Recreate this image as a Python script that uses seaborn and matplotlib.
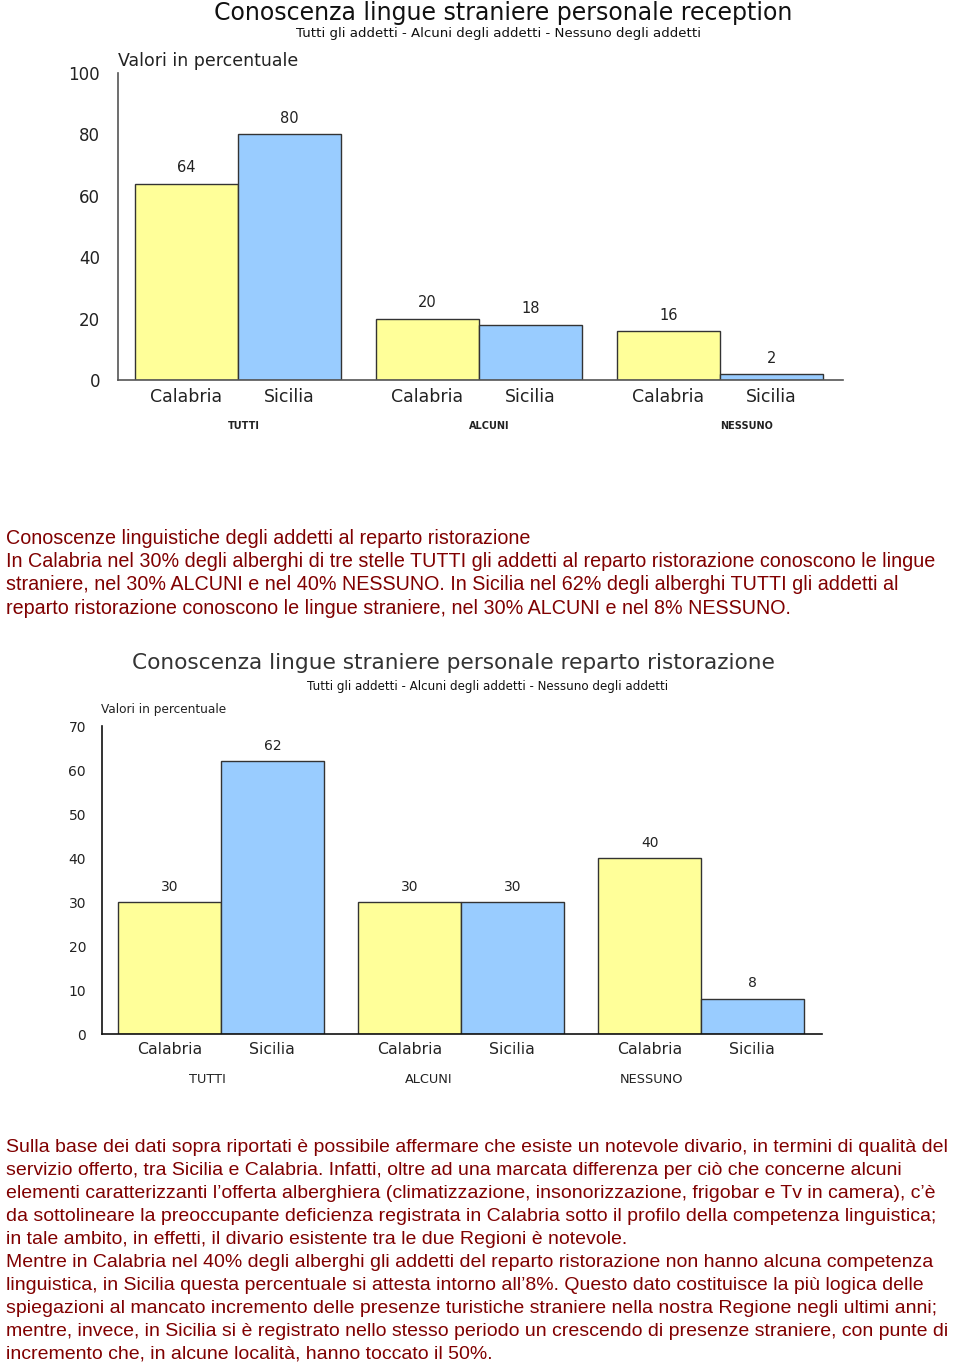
import matplotlib
matplotlib.use("Agg")
import matplotlib.pyplot as plt
import seaborn as sns
import pandas as pd

# ---------------- data ----------------
groups = ["TUTTI", "ALCUNI", "NESSUNO"]
regions = ["Calabria", "Sicilia"]
reception_calabria = [64, 20, 16]
reception_sicilia = [80, 18, 2]
ristorazione_calabria = [30, 30, 40]
ristorazione_sicilia = [62, 30, 8]
reception_yticks = [0, 20, 40, 60, 80, 100]
ristorazione_yticks = [0, 10, 20, 30, 40, 50, 60, 70]

title1 = "Conoscenza lingue straniere personale reception"
title2 = "Conoscenza lingue straniere personale reparto ristorazione"
subtitle = "Tutti gli addetti - Alcuni degli addetti - Nessuno degli addetti"
ylabel = "Valori in percentuale"

para1 = [
    "Conoscenze linguistiche degli addetti al reparto ristorazione",
    "In Calabria nel 30% degli alberghi di tre stelle TUTTI gli addetti al reparto ristorazione conoscono le lingue",
    "straniere, nel 30% ALCUNI e nel 40% NESSUNO. In Sicilia nel 62% degli alberghi TUTTI gli addetti al",
    "reparto ristorazione conoscono le lingue straniere, nel 30% ALCUNI e nel 8% NESSUNO.",
]
para2 = [
    "Sulla base dei dati sopra riportati è possibile affermare che esiste un notevole divario, in termini di qualità del",
    "servizio offerto, tra Sicilia e Calabria. Infatti, oltre ad una marcata differenza per ciò che concerne alcuni",
    "elementi caratterizzanti l’offerta alberghiera (climatizzazione, insonorizzazione, frigobar e Tv in camera), c’è",
    "da sottolineare la preoccupante deficienza registrata in Calabria sotto il profilo della competenza linguistica;",
    "in tale ambito, in effetti, il divario esistente tra le due Regioni è notevole.",
    "Mentre in Calabria nel 40% degli alberghi gli addetti del reparto ristorazione non hanno alcuna competenza",
    "linguistica, in Sicilia questa percentuale si attesta intorno all’8%. Questo dato costituisce la più logica delle",
    "spiegazioni al mancato incremento delle presenze turistiche straniere nella nostra Regione negli ultimi anni;",
    "mentre, invece, in Sicilia si è registrato nello stesso periodo un crescendo di presenze straniere, con punte di",
    "incremento che, in alcune località, hanno toccato il 50%.",
]

YELLOW = "#FFFF99"
BLUE = "#99CCFF"
TEXT_RED = "#800000"

sns.set_theme(style="white")
plt.rcParams["font.family"] = ["DejaVu Sans"]

W, H = 960, 1367
fig = plt.figure(figsize=(W / 100, H / 100), dpi=100)


def px_rect(left, top, right, bottom):
    return [left / W, 1 - bottom / H, (right - left) / W, (bottom - top) / H]


def fy(y):
    return 1 - y / H


def make_df(cal, sic):
    rows = []
    for g, c, s in zip(groups, cal, sic):
        rows.append({"gruppo": g, "regione": regions[0], "valore": c})
        rows.append({"gruppo": g, "regione": regions[1], "valore": s})
    return pd.DataFrame(rows)


def draw_chart(ax, df, ymax, yticks, xlim, tick_fs, val_fs, cat_fs, grp_fs,
               grp_weight, grp_offsets, ypad, spine_color):
    sns.barplot(data=df, x="gruppo", y="valore", hue="regione",
                order=groups, hue_order=regions,
                palette=[YELLOW, BLUE], saturation=1, width=0.855,
                edgecolor="#333333", linewidth=1.0, ax=ax, legend=False)
    ax.set_ylim(0, ymax)
    ax.set_xlim(*xlim)
    ax.set_yticks(yticks)
    ax.set_yticklabels([str(t) for t in yticks], fontsize=tick_fs, color="#222222")
    ax.tick_params(axis="y", length=0, pad=ypad)
    centers, labels = [], []
    for cont, reg in zip(ax.containers, regions):
        for p in cont.patches:
            centers.append(p.get_x() + p.get_width() / 2)
            labels.append(reg)
        ax.bar_label(cont, padding=6, fontsize=val_fs, color="#222222")
    ax.set_xticks(centers)
    ax.set_xticklabels(labels, fontsize=cat_fs, color="#222222")
    ax.tick_params(axis="x", length=0, pad=6)
    ax.set_xlabel("")
    ax.set_ylabel("")
    for s in ["top", "right"]:
        ax.spines[s].set_visible(False)
    for s in ["left", "bottom"]:
        ax.spines[s].set_color(spine_color)
        ax.spines[s].set_linewidth(1.2)
    for i, (g, off) in enumerate(zip(groups, grp_offsets)):
        ax.annotate(g, xy=(i, 0), xycoords=("data", "axes fraction"),
                    xytext=(off, -33), textcoords="offset points",
                    ha="center", va="center", fontsize=grp_fs,
                    fontweight=grp_weight, color="#222222")


# ---------------- chart 1 ----------------
ax1 = fig.add_axes(px_rect(118, 73, 843, 380))
draw_chart(ax1, make_df(reception_calabria, reception_sicilia), 100,
           reception_yticks, (-0.498, 2.51), 12, 10.5, 12.5, 7, "bold",
           [4, 7, 19], 13, "#555555")
fig.text(503 / W, fy(13), title1, ha="center", va="center", fontsize=17,
         color="#111111")
fig.text(499 / W, fy(34), subtitle, ha="center", va="center", fontsize=9.6,
         color="#111111")
fig.text(118 / W, fy(61), ylabel, ha="left", va="center", fontsize=12.5,
         color="#222222")

# ---------------- chart 2 ----------------
ax2 = fig.add_axes(px_rect(102, 726, 822, 1034))
draw_chart(ax2, make_df(ristorazione_calabria, ristorazione_sicilia), 70,
           ristorazione_yticks, (-0.496, 2.504), 10, 10, 11.3, 9.3, "normal",
           [-10, -23, -36], 11.5, "#111111")
fig.text(453 / W, fy(663), title2, ha="center", va="center", fontsize=15.6,
         color="#333333")
fig.text(488 / W, fy(686), subtitle, ha="center", va="center", fontsize=8.6,
         color="#111111")
fig.text(101 / W, fy(709), ylabel, ha="left", va="center", fontsize=8.7,
         color="#222222")

# ---------------- paragraphs ----------------
for i, line in enumerate(para1):
    fig.text(6 / W, fy(539 + i * 23), line, ha="left", va="center",
             fontsize=14.2, family="Liberation Sans", color=TEXT_RED)
for i, line in enumerate(para2):
    fig.text(6 / W, fy(1148 + i * 22.9), line, ha="left", va="center",
             fontsize=14.0, family="Liberation Sans", color=TEXT_RED)

fig.savefig("out.png", dpi=100)
